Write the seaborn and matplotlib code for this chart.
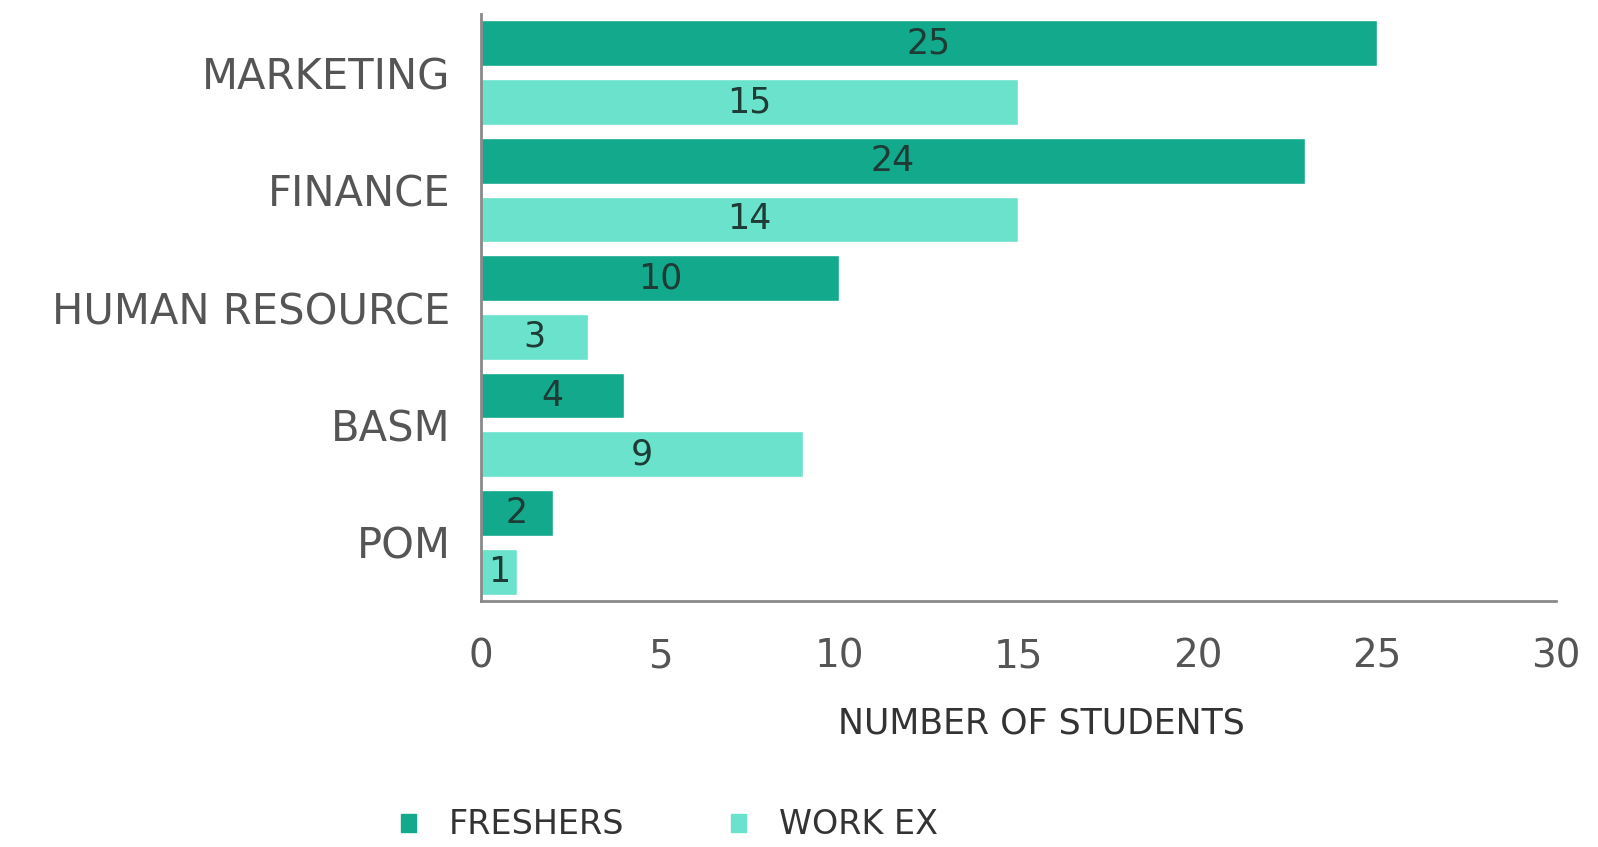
# Horizontal grouped bar chart: students by specialisation
import pandas as pd
import seaborn as sns
import matplotlib.pyplot as plt
from matplotlib.patches import Patch

# %%
# data
specs = ["MARKETING", "FINANCE", "HUMAN RESOURCE", "BASM", "POM"]
freshers = [25, 23, 10, 4, 2]        # bar lengths as drawn
work_ex = [15, 15, 3, 9, 1]
freshers_labels = ["25", "24", "10", "4", "2"]   # printed numbers
work_ex_labels = ["15", "14", "3", "9", "1"]
groups = ["FRESHERS", "WORK EX"]
xticks = [0, 5, 10, 15, 20, 25, 30]

df = pd.DataFrame({
    "spec": specs * 2,
    "students": freshers + work_ex,
    "group": [groups[0]] * len(specs) + [groups[1]] * len(specs),
})

# %%
sns.set_theme(style="white")
plt.rcParams["font.family"] = ["DejaVu Sans"]
mypal = {"FRESHERS": "#13a98c", "WORK EX": "#6be2cb"}
txt_col = "#555555"

fig = plt.figure(figsize=(15.98, 8.47), dpi=100)
ax = fig.add_axes([0.301, 0.2904, 0.6727, 0.6931])
sns.barplot(data=df, y="spec", x="students", hue="group", orient="h",
            order=specs, hue_order=groups, palette=mypal, saturation=1,
            width=1.0, gap=0.22, legend=False, ax=ax)

for cont, labs in zip(ax.containers, [freshers_labels, work_ex_labels]):
    ax.bar_label(cont, labels=labs, label_type="center",
                 fontsize=25, color="#1e3b35")

ax.set(xlim=(0, 30), ylim=(4.5, -0.5), xticks=xticks, xlabel="", ylabel="")
ax.tick_params(axis="x", length=0, labelsize=28, colors=txt_col, pad=26)
ax.tick_params(axis="y", length=0, labelsize=30, colors=txt_col, pad=22)
ax.set_xlabel("NUMBER OF STUDENTS", fontsize=25, color="#333333")
ax.xaxis.set_label_coords(0.521, -0.18)
sns.despine(ax=ax)
for s in ["left", "bottom"]:
    ax.spines[s].set_color("#8a8a8a")
    ax.spines[s].set_linewidth(2)

handles = [Patch(color=mypal[g], label=g) for g in groups]
fig.legend(handles=handles, loc="center", bbox_to_anchor=(0.419, 0.026),
           ncol=2, frameon=False, fontsize=24, handlelength=0.45,
           handleheight=0.45, handletextpad=1.0, columnspacing=3.2,
           labelcolor="#333333")

fig.savefig("out.png", dpi=100)
